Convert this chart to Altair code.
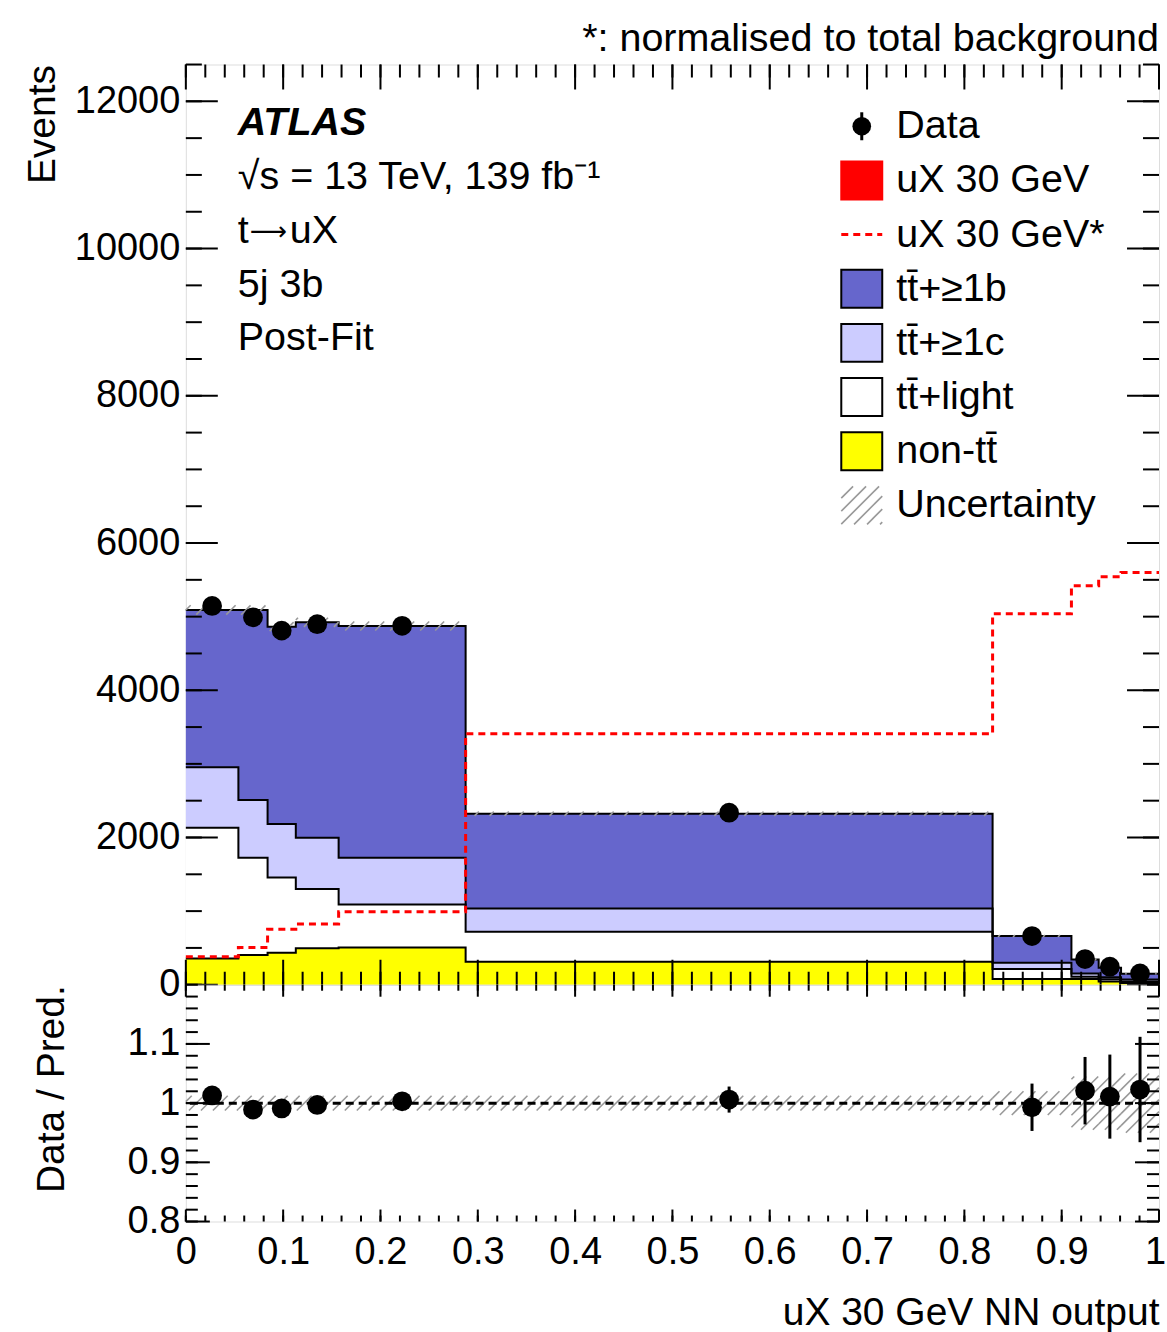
import altair as alt
import pandas as pd
import numpy as np

# ---------------- data ----------------
edges = [0.0, 0.054, 0.084, 0.113, 0.157, 0.2875, 0.829, 0.91, 0.938, 0.961, 1.0]
non_tt = [357, 403, 435, 494, 507, 312, 77, 77, 45, 25]
tt_light = [1776, 1323, 1023, 806, 584, 408, 136, 32, 30, 20]
tt_1c = [820, 783, 725, 697, 635, 317, 87, 45, 25, 25]
tt_1b = [2138, 2581, 2681, 2926, 3147, 1285, 363, 189, 130, 78]
signal_norm = [380, 507, 752, 825, 992, 3410, 5040, 5420, 5543, 5598]
data_vals = [5145, 4990, 4810, 4898, 4875, 2337, 661, 349, 245, 154]
data_err = [72, 71, 69, 70, 70, 48, 26, 19, 16, 12]
ratio_vals = [1.013, 0.989, 0.991, 0.997, 1.003, 1.006, 0.993, 1.021, 1.011, 1.023]
ratio_err = [0.014, 0.014, 0.014, 0.014, 0.014, 0.022, 0.04, 0.057, 0.071, 0.089]
unc_rel = [0.0125, 0.0125, 0.0125, 0.0125, 0.0125, 0.0125, 0.02, 0.045, 0.045, 0.05]

y_major = [0, 2000, 4000, 6000, 8000, 10000, 12000]
x_major = [0, 0.1, 0.2, 0.3, 0.4, 0.5, 0.6, 0.7, 0.8, 0.9, 1]
r_major = [0.8, 0.9, 1, 1.1]

proc_keys = ["non-tt", "tt+light", "tt+>=1c", "tt+>=1b"]
proc_colors = ["#FFFF00", "#FFFFFF", "#CCCCFF", "#6666CC"]

legend_labels = ["Data", "uX 30 GeV", "uX 30 GeV*", "tt\u0304+\u22651b", "tt\u0304+\u22651c",
                 "tt\u0304+light", "non-tt\u0304", "Uncertainty"]
energy_label = "\u221as = 13 TeV, 139 fb\u207b\u00b9"
channel_parts = ["t", "\u27f6", "uX"]
info_labels = ["5j 3b", "Post-Fit"]

# ---------------- layout constants ----------------
W, H1, H2 = 974, 921, 237
YMAX = 12500.0
RLO, RHI = 0.8, 1.2
FONT = "Liberation Sans"
TXT = 39.5

n = len(data_vals)
lo = edges[:-1]
hi = edges[1:]
centers = [(a + b) / 2 for a, b in zip(lo, hi)]

xs = alt.Scale(domain=[0, 1], nice=False, zero=False)
ys = alt.Scale(domain=[0, YMAX], nice=False, zero=False)
rs = alt.Scale(domain=[RLO, RHI], nice=False, zero=False)

common_axis = dict(ticks=False, tickSize=0, domain=False, grid=False, labelFontSize=38, titleFontSize=39,
                   titleFontWeight="normal", labelFont=FONT, titleFont=FONT,
                   labelColor="black", titleColor="black", titleAnchor="end")
main_axis = alt.Axis(values=y_major, format="d", title="Events", labelPadding=6, titlePadding=12,
                     **common_axis)
ratio_axis_y = alt.Axis(values=r_major, format="~g", title="Data / Pred.", labelPadding=6,
                        titlePadding=56, **common_axis)
ratio_axis_x = alt.Axis(values=x_major, format="~g", title="uX 30 GeV NN output", labelPadding=12,
                        labelFlush=False, labelOverlap=False, titlePadding=22,
                        labelOffset={"condition": {"test": "datum.value == 1", "value": -4}, "value": 0},
                        **common_axis)


def MX(f):
    return alt.X(f, scale=xs, axis=None)


def MY(f):
    return alt.Y(f, scale=ys, axis=main_axis, stack=None)


def RX(f):
    return alt.X(f, scale=xs, axis=ratio_axis_x)


def RY(f):
    return alt.Y(f, scale=rs, axis=ratio_axis_y)


# ---------------- stack (step areas) ----------------
area_rows = []
base = np.zeros(n)
for key, vals in zip(proc_keys, [non_tt, tt_light, tt_1c, tt_1b]):
    top = base + np.array(vals, dtype=float)
    for i in range(n):
        area_rows.append(dict(proc=key, x=lo[i], top=top[i], bottom=base[i]))
    area_rows.append(dict(proc=key, x=1.0, top=top[-1], bottom=base[-1]))
    base = top
total = base
area_df = pd.DataFrame(area_rows)

sig_df = pd.DataFrame({"x": lo + [1.0], "y": signal_norm + [signal_norm[-1]]})


def hatch(x0s, x1s, ylos, yhis, ppx, ppy, yoff, spacing):
    segs = []
    for x0, x1, yl, yh in zip(x0s, x1s, ylos, yhis):
        u0, u1 = x0 * ppx, x1 * ppx
        v0, v1 = (yl - yoff) * ppy, (yh - yoff) * ppy
        kmin = int(np.floor((v0 - u1) / spacing))
        kmax = int(np.ceil((v1 - u0) / spacing))
        for k in range(kmin, kmax + 1):
            c = k * spacing
            ua = max(u0, v0 - c)
            ub = min(u1, v1 - c)
            if ub - ua > 0.8:
                segs.append(dict(hx=ua / ppx, hy=(ua + c) / ppy + yoff,
                                 hx2=ub / ppx, hy2=(ub + c) / ppy + yoff))
    return pd.DataFrame(segs)


main_hatch = hatch(lo, hi, [t * (1 - u) for t, u in zip(total, unc_rel)],
                   [t * (1 + u) for t, u in zip(total, unc_rel)], W, H1 / YMAX, 0.0, 15)
ratio_hatch = hatch(lo, hi, [1 - u for u in unc_rel], [1 + u for u in unc_rel],
                    W, H2 / (RHI - RLO), RLO, 12)

pts_df = pd.DataFrame({"x": centers, "y": data_vals,
                       "ylo": [d - e for d, e in zip(data_vals, data_err)],
                       "yhi": [d + e for d, e in zip(data_vals, data_err)]})
rat_df = pd.DataFrame({"x": centers, "y": ratio_vals,
                       "ylo": [d - e for d, e in zip(ratio_vals, ratio_err)],
                       "yhi": [d + e for d, e in zip(ratio_vals, ratio_err)]})


def tick_layers(fx, fy, major, minor, maj_len_x, min_len_x, ymaj, ymin, maj_len_y, min_len_y, H):
    out = []
    for vals, L in [(major, maj_len_x), (minor, min_len_x)]:
        df = pd.DataFrame({"t": vals})
        out.append(alt.Chart(df).mark_rule(color="black", strokeWidth=2).encode(
            x=fx("t:Q"), y=alt.value(H), y2=alt.value(H - L)))
        out.append(alt.Chart(df).mark_rule(color="black", strokeWidth=2).encode(
            x=fx("t:Q"), y=alt.value(0), y2=alt.value(L)))
    for vals, L in [(ymaj, maj_len_y), (ymin, min_len_y)]:
        df = pd.DataFrame({"t": vals})
        out.append(alt.Chart(df).mark_rule(color="black", strokeWidth=2).encode(
            y=fy("t:Q"), x=alt.value(0), x2=alt.value(L)))
        out.append(alt.Chart(df).mark_rule(color="black", strokeWidth=2).encode(
            y=fy("t:Q"), x=alt.value(W - L), x2=alt.value(W)))
    return out


x_minor = [round(i * 0.02, 4) for i in range(51)]
y_minor = [i * 500 for i in range(26)]
r_minor = [round(0.8 + i * 0.02, 4) for i in range(21)]

one = pd.DataFrame({"a": [0]})


def label(text, x, y, align="left", font=FONT, **kw):
    return alt.Chart(one).mark_text(text=text, font=font, fontSize=kw.pop("fontSize", TXT), align=align,
                                    baseline="alphabetic", color="black", **kw).encode(
        x=alt.value(x), y=alt.value(y))


# ---------------- main panel ----------------
areas = alt.Chart(area_df).mark_area(interpolate="step-after", strokeWidth=0).encode(
    x=MX("x:Q"), y=MY("top:Q"), y2="bottom",
    fill=alt.Fill("proc:N", scale=alt.Scale(domain=proc_keys, range=proc_colors), legend=None),
    detail="proc:N")

outlines = alt.Chart(area_df).mark_line(interpolate="step-after", color="black", strokeWidth=2).encode(
    x=MX("x:Q"), y=MY("top:Q"), detail="proc:N")

sig_line = alt.Chart(sig_df).mark_line(interpolate="step-after", color="#FF0000", strokeWidth=3,
                                       strokeDash=[7, 5]).encode(x=MX("x:Q"), y=MY("y:Q"))

mh = alt.Chart(main_hatch).mark_rule(color="#999999", strokeWidth=1.6).encode(
    x=MX("hx:Q"), y=MY("hy:Q"), x2="hx2", y2="hy2")

perr = alt.Chart(pts_df).mark_rule(color="black", strokeWidth=3).encode(
    x=MX("x:Q"), y=MY("ylo:Q"), y2="yhi")
pts = alt.Chart(pts_df).mark_point(filled=True, shape="circle", size=390, color="black", opacity=1).encode(
    x=MX("x:Q"), y=MY("y:Q"))

main_layers = [areas, outlines, sig_line, mh, perr, pts]
main_layers += tick_layers(MX, MY, x_major, x_minor, 25, 13, y_major, y_minor, 32, 16, H1)

# text block (ATLAS etc.)
TX = 52
BL0 = 71
DBL = 53.8
main_layers.append(label("ATLAS", TX, BL0, fontWeight="bold", fontStyle="italic"))
main_layers.append(label(energy_label, TX, BL0 + DBL))
main_layers.append(label(channel_parts[0], TX, BL0 + 2 * DBL))
main_layers.append(label(channel_parts[1], TX + 12, BL0 + 2 * DBL - 3, font="DejaVu Sans", fontSize=26))
main_layers.append(label(channel_parts[2], TX + 52, BL0 + 2 * DBL))
for i, lab in enumerate(info_labels):
    main_layers.append(label(lab, TX, BL0 + DBL * (i + 3)))

# top note
main_layers.append(label("*: normalised to total background", W, -14, align="right"))

# legend
LX0, LX1 = 656, 697
LXC = (LX0 + LX1) / 2
ROW0 = 61.8
DROW = 54.2
for i, lab in enumerate(legend_labels):
    cy = ROW0 + DROW * i
    main_layers.append(label(lab, 711, cy + 12))
    if i == 0:
        main_layers.append(alt.Chart(one).mark_rule(color="black", strokeWidth=3).encode(
            x=alt.value(LXC), y=alt.value(cy - 14), y2=alt.value(cy + 14)))
        main_layers.append(alt.Chart(one).mark_point(filled=True, shape="circle", size=350, color="black",
                                                     opacity=1).encode(x=alt.value(LXC), y=alt.value(cy)))
    elif i == 2:
        main_layers.append(alt.Chart(one).mark_rule(color="#FF0000", strokeWidth=3, strokeDash=[7, 5]).encode(
            x=alt.value(LX0), x2=alt.value(LX1), y=alt.value(cy)))
    elif i == 7:
        box_hatch = hatch([LX0 / W], [LX1 / W], [(H1 - (cy + 19)) / H1 * YMAX], [(H1 - (cy - 19)) / H1 * YMAX],
                          W, H1 / YMAX, 0.0, 13)
        main_layers.append(alt.Chart(box_hatch).mark_rule(color="#999999", strokeWidth=1.6).encode(
            x=MX("hx:Q"), y=MY("hy:Q"), x2="hx2", y2="hy2"))
    else:
        fill = {1: "#FF0000", 3: proc_colors[3], 4: proc_colors[2], 5: proc_colors[1], 6: proc_colors[0]}[i]
        stroke = "#FF0000" if i == 1 else "black"
        main_layers.append(alt.Chart(one).mark_rect(fill=fill, stroke=stroke, strokeWidth=2).encode(
            x=alt.value(LX0), x2=alt.value(LX1), y=alt.value(cy - 19), y2=alt.value(cy + 19)))

main = alt.layer(*main_layers).properties(width=W, height=H1)

# ---------------- ratio panel ----------------
rh = alt.Chart(ratio_hatch).mark_rule(color="#999999", strokeWidth=1.6).encode(
    x=RX("hx:Q"), y=RY("hy:Q"), x2="hx2", y2="hy2")
unity = alt.Chart(pd.DataFrame({"one": [1.0]})).mark_rule(color="black", strokeWidth=3,
                                                           strokeDash=[8, 5]).encode(y=RY("one:Q"))
rerr = alt.Chart(rat_df).mark_rule(color="black", strokeWidth=3).encode(
    x=RX("x:Q"), y=RY("ylo:Q"), y2="yhi")
rpts = alt.Chart(rat_df).mark_point(filled=True, shape="circle", size=390, color="black", opacity=1).encode(
    x=RX("x:Q"), y=RY("y:Q"))

ratio_layers = [rh, unity, rerr, rpts]
ratio_layers += tick_layers(RX, RY, x_major, x_minor, 12, 6, r_major, r_minor, 24, 12, H2)
ratio = alt.layer(*ratio_layers).properties(width=W, height=H2)

chart = alt.vconcat(main, ratio, spacing=0, bounds="flush").properties(
    padding={"left": 22, "top": 17, "right": 0, "bottom": 0}
).configure_view(stroke="black", strokeWidth=3).configure_axis(
    labelFont=FONT, titleFont=FONT, labelColor="black", titleColor="black",
    titleFontWeight="normal", grid=False
).configure(background="white")

chart.save("out.html", embed_options={"renderer": "svg", "actions": False})
